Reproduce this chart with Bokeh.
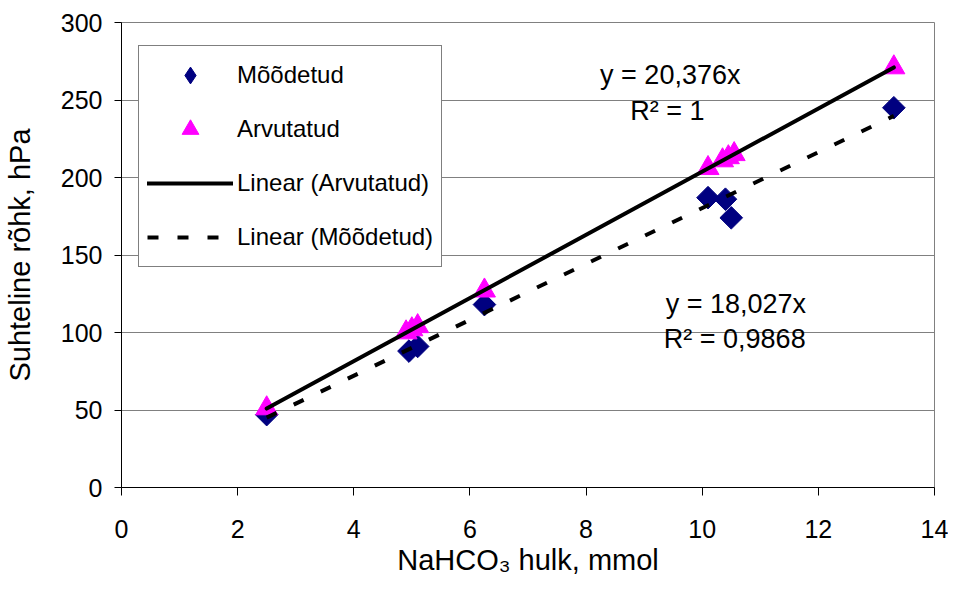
import numpy as np
from bokeh.plotting import figure
from bokeh.models import (ColumnDataSource, Legend, LegendItem, Label,
                          SingleIntervalTicker)
from bokeh.embed import file_html
from bokeh.resources import INLINE

# ---- data ----
x_measured = [2.5, 4.95, 5.1, 6.25, 10.1, 10.4, 10.5, 13.3]
y_measured = [47, 88, 91, 118, 187, 186, 174, 245]

x_calc = [2.5, 4.9, 5.0, 5.1, 6.25, 10.1, 10.35, 10.45, 10.55, 13.3]
y_calc = [51, 100, 102, 104, 127, 206, 211, 213, 215, 271]

slope_calc = 20.376
r2_calc = "1"
slope_meas = 18.027
r2_meas = "0,9868"

x_ticks_interval = 2
y_ticks_interval = 50

FONT = "Liberation Sans"

p = figure(width=948, height=578, x_range=(0, 14), y_range=(0, 300),
           min_border_left=120, min_border_right=14, min_border_top=22,
           min_border_bottom=88, output_backend="svg", toolbar_location=None)
p.background_fill_color = "white"
p.border_fill_color = "white"
p.outline_line_color = "#808080"
p.outline_line_width = 1

p.xgrid.grid_line_color = None
p.ygrid.grid_line_color = "#808080"
p.ygrid.grid_line_width = 1

p.xaxis.ticker = SingleIntervalTicker(interval=x_ticks_interval)
p.yaxis.ticker = SingleIntervalTicker(interval=y_ticks_interval)

for ax in (p.xaxis[0], p.yaxis[0]):
    ax.axis_line_color = "black"
    ax.axis_line_width = 1
    ax.major_tick_line_color = "black"
    ax.major_tick_in = 0
    ax.minor_tick_line_color = None
    ax.major_label_text_font = FONT
    ax.major_label_text_font_size = "25px"
    ax.major_label_text_color = "black"
    ax.axis_label_text_font = FONT
    ax.axis_label_text_font_style = "normal"
    ax.axis_label_text_font_size = "29px"
    ax.axis_label_text_color = "black"

p.xaxis.major_tick_out = 8
p.yaxis.major_tick_out = 7
p.xaxis.major_label_standoff = 24
p.yaxis.major_label_standoff = 12
p.xaxis.axis_label_standoff = 3
p.yaxis.axis_label_standoff = 22
p.xaxis.axis_label = "NaHCO\u2083 hulk, mmol"
p.yaxis.axis_label = "Suhteline rõhk, hPa"

src_m = ColumnDataSource(dict(x=x_measured, y=y_measured))
src_c = ColumnDataSource(dict(x=x_calc, y=y_calc))

# diamond sample used by the legend (hidden under the rotated squares)
r_m_leg = p.scatter("x", "y", source=src_m, marker="diamond", size=14,
                    fill_color="#000080", line_color="#000080")
r_m = p.scatter("x", "y", source=src_m, marker="square", size=16,
                angle=np.pi / 4, fill_color="#000080", line_color="#000080")
r_c = p.scatter("x", "y", source=src_c, marker="triangle", size=22,
                fill_color="#FF00FF", line_color="#FF00FF")

xc_line = [min(x_calc), max(x_calc)]
yc_line = [slope_calc * v for v in xc_line]
xm_line = [min(x_measured), max(x_measured)]
ym_line = [slope_meas * v for v in xm_line]

r_lc = p.line(xc_line, yc_line, line_color="black", line_width=4,
              line_cap="round")
r_lm = p.line(xm_line, ym_line, line_color="black", line_width=4,
              line_dash="11 19")

legend = Legend(items=[
    LegendItem(label="Mõõdetud", renderers=[r_m_leg]),
    LegendItem(label="Arvutatud", renderers=[r_c]),
    LegendItem(label="Linear (Arvutatud)", renderers=[r_lc]),
    LegendItem(label="Linear (Mõõdetud)", renderers=[r_lm]),
], location=(17, 220))
legend.border_line_color = "black"
legend.border_line_width = 1
legend.background_fill_color = "white"
legend.background_fill_alpha = 1
legend.padding = 8
legend.spacing = 12
legend.margin = 0
legend.glyph_width = 86
legend.glyph_height = 42
legend.label_height = 42
legend.label_standoff = 4
legend.label_text_font = FONT
legend.label_text_font_size = "24px"
legend.label_text_color = "black"
p.add_layout(legend)

def fmt(v):
    return f"{v:.3f}".replace(".", ",")

labels = [
    (f"y = {fmt(slope_calc)}x", 9.45, 266.0),
    (f"R² = {r2_calc}", 9.40, 243.0),
    (f"y = {fmt(slope_meas)}x", 10.58, 118.5),
    (f"R² = {r2_meas}", 10.56, 96.0),
]
for t, lx, ly in labels:
    p.add_layout(Label(x=lx, y=ly, text=t, text_align="center",
                       text_baseline="alphabetic", text_font=FONT,
                       text_font_size="27px", text_color="black"))

open("out.html", "w").write(file_html(p, INLINE))
